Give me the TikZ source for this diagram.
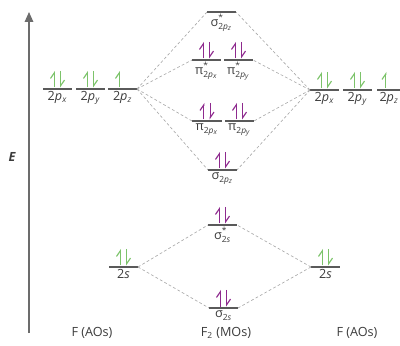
\documentclass[tikz,border=0pt]{standalone}
\usepackage{amsmath}
\usepackage{fontspec}
\setmainfont{Open Sans}
\usepackage{tikz}
\usetikzlibrary{arrows.meta,calc}
\definecolor{aogreen}{HTML}{7CC36A}
\definecolor{mopurple}{HTML}{8E2A8E}
\definecolor{txtgray}{HTML}{3C3C3C}
\definecolor{lvlgray}{HTML}{5A5A5A}
\definecolor{dashgray}{HTML}{A8A8A8}
\tikzset{
  lvl/.style={line width=0.9pt,lvlgray},
  corr/.style={dashgray,line width=0.45pt,dash pattern=on 2pt off 1.6pt},
  lbl/.style={anchor=north,inner sep=0.5pt,text=txtgray,font=\fontsize{9}{10}\selectfont},
  axlbl/.style={text=txtgray,font=\fontsize{9}{11}\selectfont},
  spin/.style={line width=0.8pt,-{Straight Barb[harpoon,length=4pt,width=5.4pt,line width=0.8pt]}},
  eaxis/.style={line width=1pt,gray!85!black,-{Triangle[length=7pt,width=6pt]}},
}
% one orbital level: name, x left, x right, y, label
\newcommand{\level}[5]{%
  \coordinate (#1w) at (#2,#4);
  \coordinate (#1e) at (#3,#4);
  \coordinate (#1c) at ($(#1w)!0.5!(#1e)$);
  \draw[lvl] (#1w) -- (#1e);
  \node[lbl] (#1l) at ($(#1c)+(0,1.5)$) {#5};}
% electrons on a level
\newcommand{\elup}[2]{\draw[spin,#2] ($(#1c)+(-3.2,-1.5)$) -- ++(0,-16.5);}
\newcommand{\eldn}[2]{\draw[spin,#2] ($(#1c)+(3.2,-18)$) -- ++(0,16.5);}
\newcommand{\elpair}[2]{\elup{#1}{#2}\eldn{#1}{#2}}
\newcommand{\ptwo}[1]{2\textit{p}\textsubscript{\textit{#1}}}
\newcommand{\mosym}[3]{$\text{#1}^{\text{#2}}_{\text{#3}}$}

\begin{document}
\begin{tikzpicture}[x=0.025cm,y=-0.025cm]
  \useasboundingbox (0,0) rectangle (400,346);

  % energy axis
  \coordinate (axbot) at (29,333);
  \coordinate (axtop) at (29,12);
  \draw[eaxis] (axbot) -- (axtop);
  \node[axlbl,font=\fontsize{9}{10}\bfseries\itshape] (elab) at (12,157) {E};

  % atomic orbitals, left atom
  \level{Lpx}{43}{72}{89}{\ptwo{x}}
  \level{Lpy}{76}{105}{89}{\ptwo{y}}
  \level{Lpz}{108}{137}{89}{\ptwo{z}}
  \level{Ls}{109}{138}{267}{2\textit{s}}

  % atomic orbitals, right atom
  \level{Rpx}{310}{339}{90}{\ptwo{x}}
  \level{Rpy}{343}{372}{90}{\ptwo{y}}
  \level{Rpz}{377}{401}{90}{\ptwo{z}}
  \level{Rs}{311}{340}{267}{2\textit{s}}

  % molecular orbitals
  \level{sgpzst}{207}{236}{12}{\mosym{σ}{*}{2\textit{p}$_{\textit{z}}$}}
  \level{pipxst}{192}{221}{60}{\mosym{π}{*}{2\textit{p}$_{\textit{x}}$}}
  \level{pipyst}{224}{253}{60}{\mosym{π}{*}{2\textit{p}$_{\textit{y}}$}}
  \level{pipx}{192}{222}{121}{\mosym{π}{}{2\textit{p}$_{\textit{x}}$}}
  \level{pipy}{225}{254}{121}{\mosym{π}{}{2\textit{p}$_{\textit{y}}$}}
  \level{sgpz}{208}{237}{170}{\mosym{σ}{}{2\textit{p}$_{\textit{z}}$}}
  \level{sgsst}{208}{237}{225}{\mosym{σ}{*}{2\textit{s}}}
  \level{sgs}{209}{238}{308}{\mosym{σ}{}{2\textit{s}}}

  % correlation lines
  \foreach \mo in {sgpzst,pipxst,pipx,sgpz}
    \draw[corr] (Lpze) -- (\mo w);
  \foreach \mo in {sgpzst,pipyst,pipy,sgpz}
    \draw[corr] (Rpxw) -- (\mo e);
  \foreach \mo in {sgsst,sgs} {
    \draw[corr] (Lse) -- (\mo w);
    \draw[corr] (Rsw) -- (\mo e);
  }

  % electrons
  \elpair{Lpx}{aogreen} \elpair{Lpy}{aogreen} \elup{Lpz}{aogreen}
  \elpair{Rpx}{aogreen} \elpair{Rpy}{aogreen} \elup{Rpz}{aogreen}
  \elpair{Ls}{aogreen} \elpair{Rs}{aogreen}
  \foreach \mo in {pipxst,pipyst,pipx,pipy,sgpz,sgsst,sgs} {
    \elpair{\mo}{mopurple}
  }

  % column titles
  \node[axlbl] (aoleft) at (92,333) {F (AOs)};
  \node[axlbl] (mocol) at (226,333) {F\textsubscript{2} (MOs)};
  \node[axlbl] (aoright) at (357,333) {F (AOs)};
\end{tikzpicture}
\end{document}
